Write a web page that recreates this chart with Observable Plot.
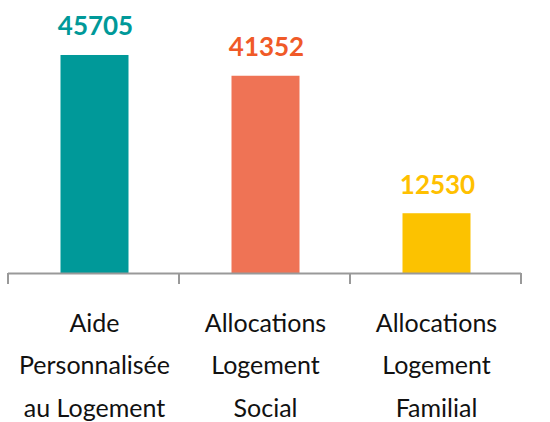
<!DOCTYPE html>
<html>
<head>
<meta charset="utf-8">
<script src="https://cdn.jsdelivr.net/npm/d3@7"></script>
<script src="https://cdn.jsdelivr.net/npm/@observablehq/plot@0.6"></script>
<style>
  html, body { margin: 0; padding: 0; background: #fff; }
  #chart { width: 550px; height: 422px; }
  svg { font-family: Lato, "Open Sans", sans-serif; }
</style>
</head>
<body>
<div id="chart"></div>
<script>
const categories = ["Aide Personnalisée au Logement", "Allocations Logement Social", "Allocations Logement Familial"];
const labels = ["Aide\nPersonnalisée\nau Logement", "Allocations\nLogement\nSocial", "Allocations\nLogement\nFamilial"];
const values = [45705, 41352, 12530];
const barColors = ["#009999", "#EF7355", "#FCC200"];
const labelColors = ["#009999", "#F05A28", "#FFC000"];

const data = categories.map((c, i) => ({cat: c, label: labels[i], value: values[i], bar: barColors[i], lab: labelColors[i]}));

const boundaryTicks = (index, scales, channels, dimensions) => {
  const g = d3.create("svg:g");
  const n = categories.length;
  const x0 = dimensions.marginLeft;
  const x1 = dimensions.width - dimensions.marginRight;
  const y0 = scales.y(0);
  for (let i = 0; i <= n; i++) {
    const x = x0 + (x1 - x0) * i / n;
    g.append("line")
      .attr("x1", x).attr("x2", x)
      .attr("y1", y0).attr("y2", y0 + 11)
      .attr("stroke", "#999").attr("stroke-width", 2);
  }
  return g.node();
};

const chart = Plot.plot({
  width: 550,
  height: 422,
  marginTop: 34.5,
  marginBottom: 149,
  marginLeft: 8,
  marginRight: 29,
  x: {domain: categories, paddingInner: 0.6, paddingOuter: 0.3, axis: null},
  y: {domain: [0, 50000], axis: null},
  marks: [
    Plot.barY(data, {x: "cat", y: "value", fill: "bar", dx: 1.5}),
    Plot.ruleY([0], {stroke: "#999", strokeWidth: 2}),
    boundaryTicks,
    Plot.text(data, {x: "cat", y: "value", text: d => String(d.value), fill: "lab",
      lineAnchor: "bottom", dy: -20, dx: 2, fontSize: 26, fontWeight: "bold"}),
    Plot.text(data, {x: "cat", y: () => 0, text: "label", fill: "#111",
      lineAnchor: "top", dy: 28, dx: 1, fontSize: 25, lineHeight: 1.7})
  ],
  color: {type: "identity"}
});
document.getElementById("chart").appendChild(chart);
</script>
</body>
</html>
